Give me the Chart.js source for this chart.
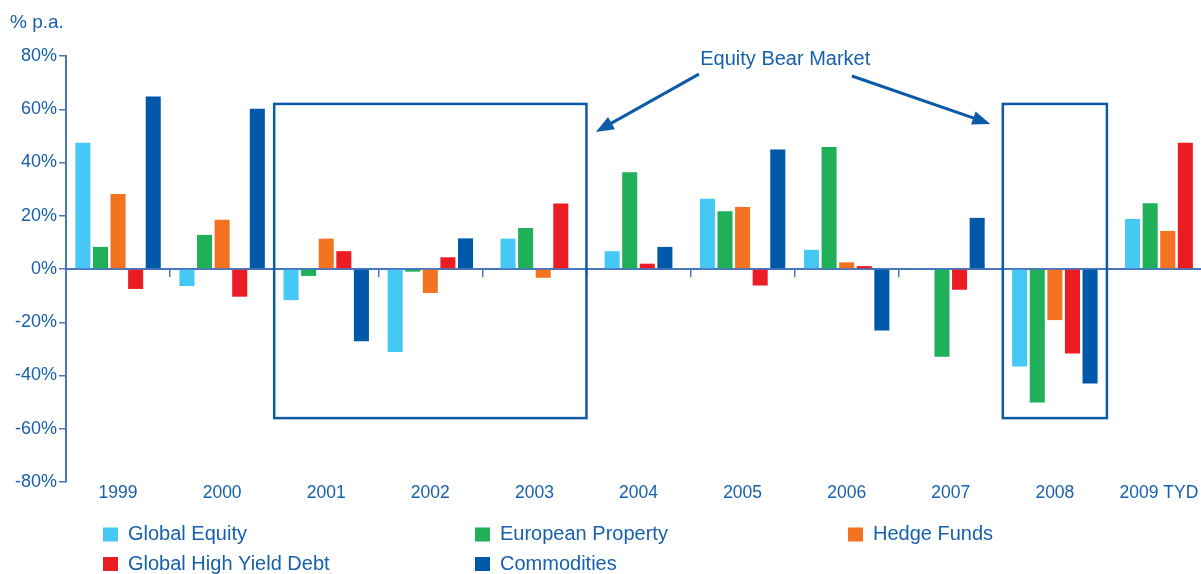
<!DOCTYPE html>
<html>
<head>
<meta charset="utf-8">
<script src="https://cdn.jsdelivr.net/npm/chart.js@4"></script>
<style>
  html, body { margin: 0; padding: 0; background: #fff; overflow: hidden; }
  #wrap { width: 1212px; height: 574px; position: relative; }
</style>
</head>
<body>
<div id="wrap"><canvas id="graficoRetornos"></canvas></div>
<script>
// --- Datos (% anual) ---
const years = ['1999', '2000', '2001', '2002', '2003', '2004', '2005', '2006', '2007', '2008', '2009 TYD'];
const globalEquity     = [47.4, -6.4, -11.7, -31.2, 11.4, 6.7, 26.4, 7.2, 0, -36.6, 18.8];
const europeanProperty = [8.3, 12.8, -2.6, -1.0, 15.4, 36.3, 21.7, 45.8, -33.0, -50.1, 24.7];
const hedgeFunds       = [28.2, 18.5, 11.4, -9.0, -3.3, null, 23.3, 2.5, null, -19.2, 14.3];
const highYieldDebt    = [-7.5, -10.4, 6.7, 4.4, 24.6, 2.0, -6.2, 1.1, -7.8, -31.7, 47.4];
const commodities      = [64.8, 60.2, -27.1, 11.5, null, 8.3, 44.9, -23.1, 19.2, -43.0, null];
const seriesNames = ['Global Equity', 'European Property', 'Hedge Funds', 'Global High Yield Debt', 'Commodities'];
const yTicks = [-80, -60, -40, -20, 0, 20, 40, 60, 80];

// colores
const seriesColors = ['#46c8f5', '#20b05a', '#f37321', '#ec1c24', '#0058a8'];
const textBlue = '#1660ad';
const axisBlue = '#4a76bf';
const boxBlue = '#0d5ba8';
const FONT = "'Liberation Sans', Arial, sans-serif";

// Recuadros "Equity Bear Market" (en unidades de categoría / %)
const bearBoxes = [
    { from: '2001', to: '2003', top: 62, bottom: -56 },
    { from: '2008', to: '2008', top: 62, bottom: -56 }
];
const bearArrows = [
    { x0: 5.58, y0: 73.2, x1: 4.59, y1: 51.5 },
    { x0: 7.05, y0: 72.5, x1: 8.38, y1: 54.5 }
];
const bearLabel = { text: 'Equity Bear Market', x: 6.41, y: 78.6 };

// --- Plugin: re-centra las barras de los años con series vacías ---
const regroupPlugin = {
    id: 'regroup',
    afterDatasetsUpdate(chart) {
        const xs = chart.scales.x;
        const sets = chart.data.datasets;
        years.forEach((y, i) => {
            const bars = [];
            sets.forEach((ds, d) => {
                if (ds.data[i] !== null) bars.push(chart.getDatasetMeta(d).data[i]);
            });
            if (!bars.length) return;
            const step = bars[0].width / sets[0].barPercentage;
            const c = xs.getPixelForValue(i);
            bars.forEach((b, k) => { b.x = c + (k - (bars.length - 1) / 2) * step; });
        });
    }
};

// --- Plugin: recuadros, flechas y texto ---
const bearMarketPlugin = {
    id: 'bearMarket',
    afterDatasetsDraw(chart) {
        const ctx = chart.ctx;
        const xs = chart.scales.x, ys = chart.scales.y;
        ctx.save();
        ctx.strokeStyle = boxBlue;
        ctx.fillStyle = boxBlue;
        ctx.lineWidth = 2.5;
        bearBoxes.forEach(b => {
            const x0 = xs.getPixelForValue(years.indexOf(b.from) - 0.5);
            const x1 = xs.getPixelForValue(years.indexOf(b.to) + 0.5);
            const y0 = ys.getPixelForValue(b.top);
            const y1 = ys.getPixelForValue(b.bottom);
            ctx.strokeRect(x0, y0, x1 - x0, y1 - y0);
        });
        ctx.lineWidth = 3;
        bearArrows.forEach(a => {
            const px0 = xs.getPixelForValue(a.x0), py0 = ys.getPixelForValue(a.y0);
            const px1 = xs.getPixelForValue(a.x1), py1 = ys.getPixelForValue(a.y1);
            const ang = Math.atan2(py1 - py0, px1 - px0);
            const head = 18, half = 7;
            ctx.beginPath();
            ctx.moveTo(px0, py0);
            ctx.lineTo(px1 - Math.cos(ang) * head * 0.8, py1 - Math.sin(ang) * head * 0.8);
            ctx.stroke();
            ctx.beginPath();
            ctx.moveTo(px1, py1);
            ctx.lineTo(px1 - Math.cos(ang) * head - Math.sin(ang) * half, py1 - Math.sin(ang) * head + Math.cos(ang) * half);
            ctx.lineTo(px1 - Math.cos(ang) * head + Math.sin(ang) * half, py1 - Math.sin(ang) * head - Math.cos(ang) * half);
            ctx.closePath();
            ctx.fill();
        });
        ctx.fillStyle = textBlue;
        ctx.font = '20px ' + FONT;
        ctx.textAlign = 'center';
        ctx.textBaseline = 'middle';
        ctx.fillText(bearLabel.text, xs.getPixelForValue(bearLabel.x), ys.getPixelForValue(bearLabel.y));
        ctx.restore();
    }
};

// --- Plugin: leyenda en columnas ---
const legendPlugin = {
    id: 'legendColumns',
    afterDraw(chart, args, opts) {
        const ctx = chart.ctx;
        ctx.save();
        ctx.font = opts.fontSize + 'px ' + FONT;
        ctx.textBaseline = 'middle';
        ctx.textAlign = 'left';
        chart.data.datasets.forEach((ds, i) => {
            const col = i % 3, row = Math.floor(i / 3);
            const x = opts.columns[col], y = opts.rows[row];
            ctx.fillStyle = ds.backgroundColor;
            ctx.fillRect(x, y - 7, 15, 14);
            ctx.fillStyle = textBlue;
            ctx.fillText(ds.label, x + 25, y);
        });
        ctx.restore();
    }
};

const datasetsValues = [globalEquity, europeanProperty, hedgeFunds, highYieldDebt, commodities];

document.addEventListener('DOMContentLoaded', function () {
    const ctxRet = document.getElementById('graficoRetornos');
    new Chart(ctxRet, {
        type: 'bar',
        data: {
            labels: years,
            datasets: datasetsValues.map((vals, i) => ({
                label: seriesNames[i],
                data: vals,
                backgroundColor: seriesColors[i],
                borderWidth: 0,
                categoryPercentage: 0.845,
                barPercentage: 0.855
            }))
        },
        options: {
            responsive: true,
            maintainAspectRatio: false,
            animation: false,
            layout: { padding: { left: 10, right: 1, top: 0, bottom: 69 } },
            plugins: {
                legend: { display: false },
                tooltip: { enabled: false },
                title: {
                    display: true,
                    text: '% p.a.',
                    align: 'start',
                    color: textBlue,
                    font: { family: FONT, size: 19, weight: 'normal', lineHeight: 1.2 },
                    padding: { top: 11, bottom: 22.2 }
                },
                legendColumns: { columns: [103, 475, 848], rows: [534.5, 564], fontSize: 20 }
            },
            scales: {
                x: {
                    type: 'category',
                    position: { y: 0 },
                    offset: true,
                    ticks: { display: false },
                    grid: { offset: true, drawOnChartArea: false, tickLength: 7, color: axisBlue, lineWidth: 1.5 },
                    border: { color: axisBlue, width: 2 }
                },
                x2: {
                    type: 'category',
                    position: 'bottom',
                    offset: true,
                    grid: { display: false, drawTicks: false },
                    border: { display: false },
                    ticks: { color: textBlue, padding: 1, font: { family: FONT, size: 17.5, lineHeight: 1.2 }, maxRotation: 0 }
                },
                y: {
                    min: -80,
                    max: 80,
                    afterFit: function (scale) { scale.width = 56; },
                    afterBuildTicks: function (scale) { scale.ticks = yTicks.map(v => ({ value: v })); },
                    ticks: {
                        color: textBlue,
                        padding: 2,
                        font: { family: FONT, size: 18 },
                        callback: v => v + '%'
                    },
                    grid: { drawOnChartArea: false, tickLength: 7, color: axisBlue, lineWidth: 1.5 },
                    border: { color: axisBlue, width: 2 }
                }
            }
        },
        plugins: [regroupPlugin, bearMarketPlugin, legendPlugin]
    });
});
</script>
</body>
</html>
